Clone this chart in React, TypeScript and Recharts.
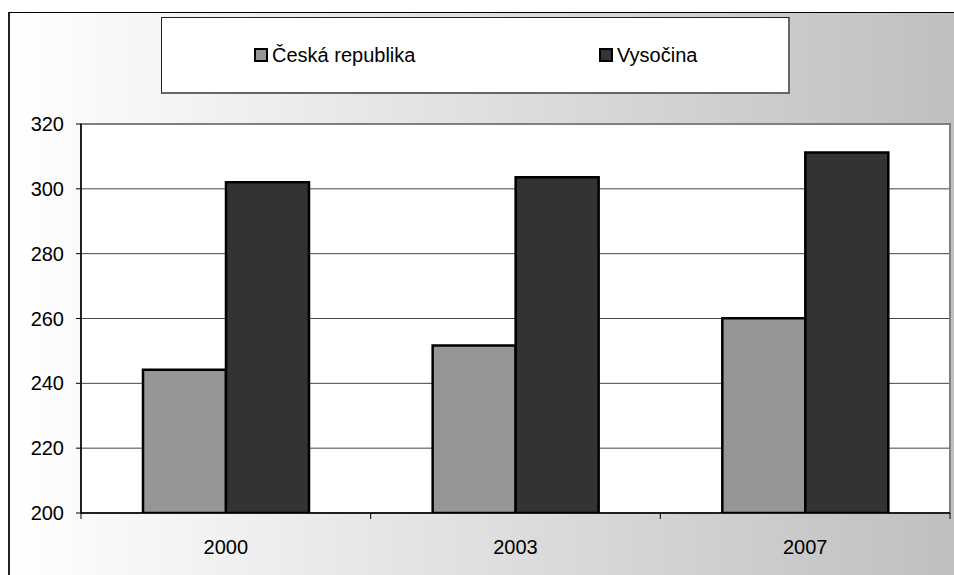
import React from 'react';
import { Bar, BarChart, CartesianGrid, ReferenceArea, XAxis, YAxis } from 'recharts';

const years = ['2000', '2003', '2007'];
const ceska = [244.2, 251.7, 260.1];
const vysocina = [302, 303.6, 311.2];
const yTicks = [200, 220, 240, 260, 280, 300, 320];

const series = [
  { key: 'ceska', name: 'Česká republika', color: '#969696' },
  { key: 'vysocina', name: 'Vysočina', color: '#333333' }
];

const data = years.map((year, i) => ({ year, ceska: ceska[i], vysocina: vysocina[i] }));

const FONT = "'Liberation Sans', Arial, sans-serif";
const TICK_SIZE = 5;
const TICK_MARGIN = 22;

// category labels in the middle, tick marks between categories (Excel style)
const XTick = (props: any) => {
  const { x, y, payload, index } = props;
  const half = payload && payload.offset ? payload.offset : 145;
  const axisY = y - TICK_SIZE - TICK_MARGIN;
  return (
    <g>
      {index === 0 && <line x1={x - half} x2={x - half} y1={axisY} y2={axisY + 6} stroke='#000' />}
      <line x1={x + half} x2={x + half} y1={axisY} y2={axisY + 6} stroke='#000' />
      <text x={x} y={y} dy='0.71em' textAnchor='middle' fontSize={20} fill='#000' fontFamily={FONT}>
        {payload.value}
      </text>
    </g>
  );
};

const legendPos = [92, 437];

export default function App() {
  return (
    <div style={{ position: 'absolute', left: 0, top: 0, width: 954, height: 575, overflow: 'hidden', fontFamily: FONT }}>
      <div
        style={{
          position: 'absolute',
          left: 8,
          top: 12,
          width: 980,
          height: 620,
          borderTop: '1px solid #000',
          borderLeft: '2px solid #222',
          background: 'linear-gradient(to right, #ffffff 0%, #bdbdbd 100%)'
        }}
      />
      <div
        style={{
          position: 'absolute',
          left: 161,
          top: 17,
          width: 626,
          height: 74,
          background: '#fff',
          borderTop: '1px solid #222',
          borderLeft: '1px solid #222',
          borderRight: '2px solid #666',
          borderBottom: '2px solid #666'
        }}
      >
        {series.map((s, i) => (
          <div
            key={s.key}
            style={{ position: 'absolute', left: legendPos[i], top: 0, height: 74, display: 'flex', alignItems: 'center', fontSize: 20, color: '#000' }}
          >
            <span style={{ display: 'inline-block', width: 10, height: 10, background: s.color, border: '2px solid #000', marginRight: 4 }} />
            <span>{s.name}</span>
          </div>
        ))}
      </div>
      <div style={{ position: 'absolute', left: 0, top: 0 }}>
        <BarChart
          width={954}
          height={575}
          data={data}
          margin={{ top: 124, right: 4, left: 0, bottom: 0 }}
          barCategoryGap='21.4%'
          barGap={0}
        >
          <CartesianGrid vertical={false} stroke='#444' fill='#fff' fillOpacity={1} />
          <ReferenceArea y1={200} y2={320} fill='none' stroke='#808080' strokeWidth={2} ifOverflow='extendDomain' />
          <XAxis
            dataKey='year'
            height={62}
            axisLine={{ stroke: '#000', strokeWidth: 1.5 }}
            tickLine={false}
            tickSize={TICK_SIZE}
            tickMargin={TICK_MARGIN}
            tick={<XTick />}
            interval={0}
          />
          <YAxis
            width={81}
            domain={[200, 320]}
            ticks={yTicks}
            allowDataOverflow
            axisLine={{ stroke: '#000', strokeWidth: 1.5 }}
            tickLine={{ stroke: '#000' }}
            tickSize={TICK_SIZE}
            tickMargin={12}
            tick={{ fontSize: 20, fill: '#000', fontFamily: FONT }}
          />
          {series.map((s) => (
            <Bar key={s.key} dataKey={s.key} name={s.name} fill={s.color} stroke='#000' strokeWidth={2.5} isAnimationActive={false} />
          ))}
        </BarChart>
      </div>
    </div>
  );
}
